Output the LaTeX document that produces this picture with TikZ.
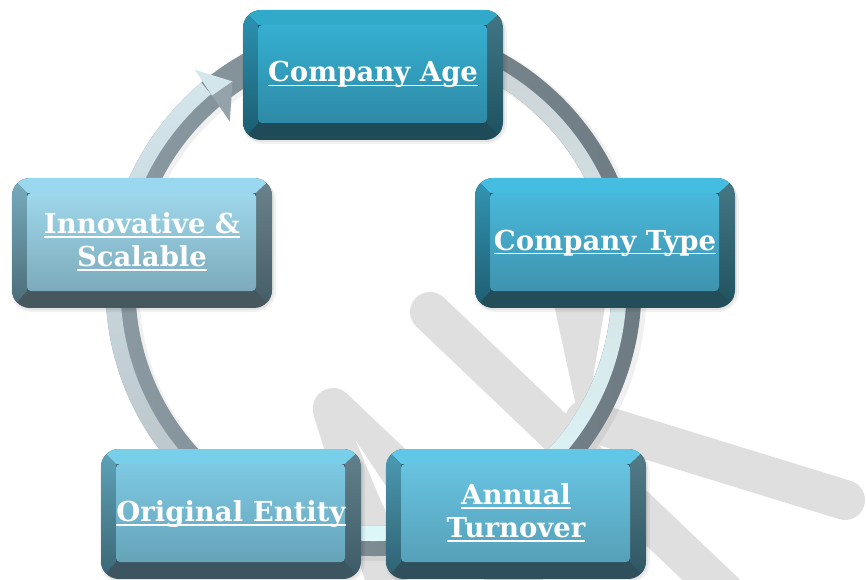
\documentclass[tikz,border=0pt]{standalone}
\usepackage{fontspec}
\setmainfont{DejaVu Serif}
\usetikzlibrary{calc}

\definecolor{wm}{HTML}{DFDFDF}
\definecolor{ringdarkL}{HTML}{8D9CA4}
\definecolor{ringdarkR}{HTML}{6C7981}
\definecolor{arrowlight}{HTML}{D3E6EC}
\definecolor{arrowdark}{HTML}{94A2A9}

\definecolor{ageT}{HTML}{31A9C9}\definecolor{ageS}{HTML}{2C94B3}\definecolor{ageR}{HTML}{215F70}
\definecolor{ageB}{HTML}{1F4B58}\definecolor{ageF}{HTML}{36AFD1}\definecolor{ageG}{HTML}{2E8AA6}
\definecolor{typT}{HTML}{44BDE1}\definecolor{typS}{HTML}{3296B5}\definecolor{typR}{HTML}{25606F}
\definecolor{typB}{HTML}{244D5A}\definecolor{typF}{HTML}{48B8DA}\definecolor{typG}{HTML}{3F93AE}
\definecolor{turT}{HTML}{62C6E6}\definecolor{turS}{HTML}{4C9BB5}\definecolor{turR}{HTML}{366574}
\definecolor{turB}{HTML}{2E4F5B}\definecolor{turF}{HTML}{67C3E1}\definecolor{turG}{HTML}{56A0B8}
\definecolor{entT}{HTML}{78CFEA}\definecolor{entS}{HTML}{5EA4BA}\definecolor{entR}{HTML}{476B78}
\definecolor{entB}{HTML}{3D5561}\definecolor{entF}{HTML}{7DC9E3}\definecolor{entG}{HTML}{66A3B8}
\definecolor{innT}{HTML}{9AD8EF}\definecolor{innS}{HTML}{78ADC0}\definecolor{innR}{HTML}{516D78}
\definecolor{innB}{HTML}{46575E}\definecolor{innF}{HTML}{9FD7EC}\definecolor{innG}{HTML}{7CAABB}

\newcommand\ulline[1]{\setbox0=\hbox{#1}\rlap{\rule[-4.5pt]{\wd0}{1.8pt}}\box0\rule[-7pt]{0pt}{28pt}}

\newcommand\KeyBox[9]{%
 \begin{scope}[shift={#2}]
  \fill[black, opacity=0.05, rounded corners=21pt] (-131,-69) rectangle (134,63);
  \fill[black, opacity=0.06, rounded corners=19pt] (-130,-67) rectangle (132,64);
  \begin{scope}
   \clip[rounded corners=18pt] (-130,-65) rectangle (130,65);
   \fill[#7] (-130,-65) rectangle (130,65);
   \fill[#4] (-130,65) -- (130,65) -- (114,50) -- (-115,50) -- cycle;
   \shade[top color=#5, bottom color=#5!62!black] (-130,65) -- (-115,50) -- (-115,-48) -- (-130,-65) -- cycle;
   \shade[top color=#6!85!white, bottom color=#6!85!black] (130,65) -- (114,50) -- (114,-48) -- (130,-65) -- cycle;
  \end{scope}
  \shade[rounded corners=4pt, top color=#8, bottom color=#9] (-115,-48) rectangle (114,50);
  \node[boxtext] (#1) at (0,0) {#3};
 \end{scope}}

\begin{document}
\begin{tikzpicture}[x=1pt,y=1pt,
  boxtext/.style={text=white, font=\bfseries\fontsize{27.5}{33}\selectfont, align=center, inner sep=0pt},
  wmstroke/.style={wm, line width=40pt, line cap=round}]
\useasboundingbox (0,0) rectangle (866,579);
\clip (0,0) rectangle (866,579);

% watermark
\draw[wmstroke] (430,267) -- (745,-33);
\draw[wmstroke] (333,171) -- (533,-19);
\draw[wmstroke] (333,169) -- (392,-21);
\draw[wmstroke] (585,159) -- (845,79);
\fill[wm] (553,279) -- (606,279) -- (583,141) -- cycle;
\fill[white] (356,138) -- (395,79) -- (383,73) -- cycle;

% ring
\coordinate (c) at (373.5,291);
\fill[black, opacity=0.06]
  ($(c)+(3,-3)+(130:270)$) arc[start angle=130, end angle=-230, radius=270]
  -- ($(c)+(3,-3)+(-230:237)$) arc[start angle=-230, end angle=130, radius=237] -- cycle;
\shade[left color=ringdarkL, right color=ringdarkR]
  ($(c)+(130:268)$) arc[start angle=130, end angle=-230, radius=268]
  -- ($(c)+(-230:238)$) arc[start angle=-230, end angle=130, radius=238] -- cycle;
\shade[top color=arrowlight, bottom color=ringdarkL!60!white]
  ($(c)+(130:268)$) arc[start angle=130, end angle=234, radius=268]
  -- ($(c)+(234:253)$) arc[start angle=234, end angle=130, radius=253] -- cycle;
\shade[top color=ringdarkL!45!white, bottom color=arrowlight!70!cyan!30!white]
  ($(c)+(234:253)$) arc[start angle=234, end angle=450, radius=253]
  -- ($(c)+(450:238)$) arc[start angle=450, end angle=234, radius=238] -- cycle;
% arrowhead
\coordinate (tip) at ($(c)+(124.3:250)$);
\coordinate (bo) at ($(c)+(129.3:282)$);
\coordinate (bi) at ($(c)+(130.8:220)$);
\coordinate (bm) at ($(c)+(130:251)$);
\fill[arrowlight] (bo) -- (tip) -- (bm) -- cycle;
\fill[arrowdark] (bm) -- (tip) -- (bi) -- cycle;

% boxes
\KeyBox{age}{(373,504)}{\ulline{Company Age}}{ageT}{ageS}{ageR}{ageB}{ageF}{ageG}
\KeyBox{type}{(605,336)}{\ulline{Company Type}}{typT}{typS}{typR}{typB}{typF}{typG}
\KeyBox{turn}{(516,65)}{\ulline{Annual}\\\ulline{Turnover}}{turT}{turS}{turR}{turB}{turF}{turG}
\KeyBox{orig}{(231,65)}{\ulline{Original Entity}}{entT}{entS}{entR}{entB}{entF}{entG}
\KeyBox{innov}{(142,336)}{\ulline{Innovative \&}\\\ulline{Scalable}}{innT}{innS}{innR}{innB}{innF}{innG}
\end{tikzpicture}
\end{document}
